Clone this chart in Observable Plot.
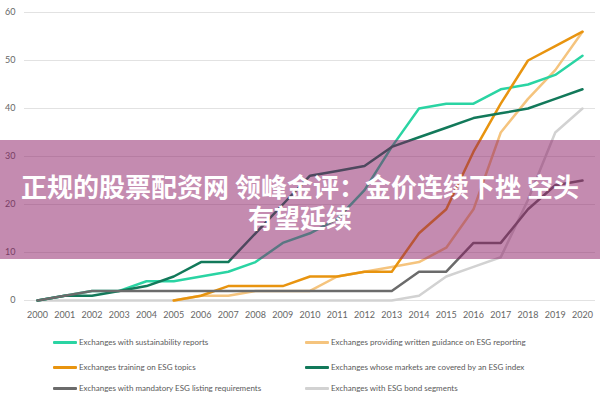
<!DOCTYPE html>
<html>
<head>
<meta charset="utf-8">
<script src="https://cdn.jsdelivr.net/npm/d3@7"></script>
<script src="https://cdn.jsdelivr.net/npm/@observablehq/plot@0.6"></script>
<style>
  html, body { margin: 0; padding: 0; background: #fff; }
  #wrap { position: relative; width: 600px; height: 400px; overflow: hidden; }
  #legend { position: relative; width: 600px; height: 70px; font-family: Lato, "Open Sans", sans-serif; font-size: 8px; color: #5a5a5a; }
  .item { position: absolute; display: flex; align-items: center; white-space: nowrap; }
  .sw { width: 24px; height: 3px; margin-right: 2px; border-radius: 1px; }
  #banner { position: absolute; left: 0; top: 140px; width: 600px; height: 119px; background: rgba(137,23,97,0.5);
            color: #fff; font-family: "Noto Sans CJK SC", sans-serif; font-weight: 700; font-size: 26px; line-height: 31px;
            text-align: center; box-sizing: border-box; padding-top: 30px; }
</style>
</head>
<body>
<div id="wrap">
  <div id="chart"></div>
  <div id="legend"></div>
  <div id="banner">正规的股票配资网 领峰金评：金价连续下挫 空头<br>有望延续</div>
</div>
<script>
const years = [2000,2001,2002,2003,2004,2005,2006,2007,2008,2009,2010,2011,2012,2013,2014,2015,2016,2017,2018,2019,2020];
const yTicks = [0,10,20,30,40,50,60];

const seriesNames = [
  "Exchanges with sustainability reports",
  "Exchanges providing written guidance on ESG reporting",
  "Exchanges training on ESG topics",
  "Exchanges whose markets are covered by an ESG index",
  "Exchanges with mandatory ESG listing requirements",
  "Exchanges with ESG bond segments"
];
const seriesColors = ["#2ad4a3", "#f5c47e", "#e8940f", "#12795a", "#6b6b6b", "#d2d2d2"];

const sustainability = [0,1,2,2,4,4,5,6,8,12,14,17,23,32,40,41,41,44,45,47,51];
const guidance      = [null,null,null,null,null,0,1,1,2,2,2,5,6,7,8,11,19,35,42,48,56];
const training      = [null,null,null,null,null,0,1,3,3,3,5,5,6,6,14,19,31,41,50,53,56];
const esgIndex      = [0,1,1,2,3,5,8,8,14,20,26,27,28,32,34,36,38,39,40,42,44];
const mandatory     = [0,1,2,2,2,2,2,2,2,2,2,2,2,2,6,6,12,12,19,24,25];
const bonds         = [0,0,0,0,0,0,0,0,0,0,0,0,0,0,1,5,7,9,21,35,40];

const allSeries = [sustainability, guidance, training, esgIndex, mandatory, bonds];
const drawOrder = [5, 1, 0, 2, 3, 4];

function rows(i) {
  return years.map((yr, j) => ({year: yr, value: allSeries[i][j]})).filter(d => d.value != null);
}

const lineMarks = drawOrder.map(i => Plot.line(rows(i), {
  x: "year", y: "value", stroke: seriesColors[i], strokeWidth: 2.5, strokeLinejoin: "round", strokeLinecap: "round"
}));

const chart = Plot.plot({
  width: 600,
  height: 330,
  marginLeft: 24,
  marginRight: 5,
  marginTop: 0,
  marginBottom: 30,
  style: {fontFamily: "Lato, 'Open Sans', sans-serif", fontSize: "9px", color: "#666", background: "#fff"},
  x: {domain: [2000, 2020], range: [37, 582], label: null},
  y: {domain: [0, 60], range: [300, 12], label: null},
  marks: [
    Plot.ruleY(yTicks, {stroke: "#e2e2e2", strokeWidth: 1.2}),
    Plot.axisY(yTicks, {tickSize: 0, tickPadding: 9, tickFormat: d => String(d), label: null}),
    Plot.axisX(years, {tickSize: 0, tickPadding: 11, tickFormat: d => String(d), label: null}),
    ...lineMarks
  ]
});
document.getElementById("chart").appendChild(chart);

// legend
const legend = document.getElementById("legend");
const legendPos = [
  [53, 12], [305, 12],
  [53, 37], [305, 37],
  [53, 58], [305, 58]
];
const legendOrder = [0, 1, 2, 3, 4, 5];
legendOrder.forEach((i, k) => {
  const it = document.createElement("div");
  it.className = "item";
  it.style.left = legendPos[k][0] + "px";
  it.style.top = (legendPos[k][1] - 6) + "px";
  it.style.height = "12px";
  const sw = document.createElement("div");
  sw.className = "sw";
  sw.style.background = seriesColors[i];
  const tx = document.createElement("span");
  tx.textContent = seriesNames[i];
  it.appendChild(sw);
  it.appendChild(tx);
  legend.appendChild(it);
});
</script>
</body>
</html>
